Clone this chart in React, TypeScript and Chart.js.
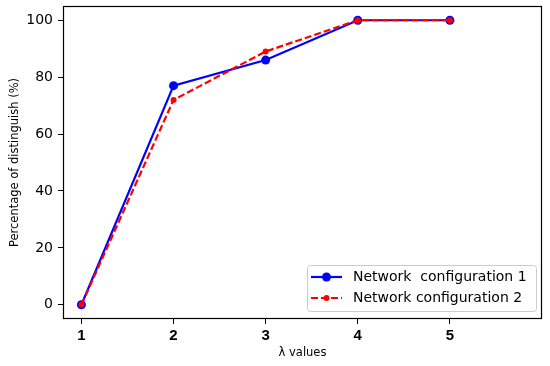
import React, { useEffect, useRef } from "react";
import { Chart, registerables } from "chart.js";

Chart.register(...registerables);

const lambdaValues = [1, 2, 3, 4, 5];
const network1 = [0, 77, 86, 100, 100];
const network2 = [0, 72, 89, 100, 100];
const yTickValues = [0, 20, 40, 60, 80, 100];
const seriesLabels = ["Network  configuration 1", "Network configuration 2"];
const xTitle = "λ values";
const yTitle = "Percentage of distinguish (%)";

const FONT = "'DejaVu Sans', sans-serif";

const frameAndLegend = {
  id: "frameAndLegend",
  afterDraw(chart: any) {
    const { ctx, chartArea } = chart;
    ctx.save();
    ctx.strokeStyle = "#000";
    ctx.lineWidth = 1.2;
    ctx.strokeRect(
      Math.round(chartArea.left) + 0.5,
      Math.round(chartArea.top) + 0.5,
      Math.round(chartArea.right - chartArea.left) - 1,
      Math.round(chartArea.bottom - chartArea.top) - 1
    );

    // legend box
    const bx = 307.5, by = 265.5, bw = 229, bh = 46;
    ctx.beginPath();
    ctx.roundRect(bx, by, bw, bh, 3);
    ctx.fillStyle = "rgba(255,255,255,0.85)";
    ctx.fill();
    ctx.strokeStyle = "#cccccc";
    ctx.lineWidth = 1;
    ctx.stroke();

    const rows = [
      { y: 277, color: "#0000ff", dash: [] as number[], r: 4.5, label: seriesLabels[0] },
      { y: 298, color: "#ff0000", dash: [7, 3], r: 3, label: seriesLabels[1] },
    ];
    rows.forEach((row) => {
      ctx.beginPath();
      ctx.setLineDash(row.dash);
      ctx.strokeStyle = row.color;
      ctx.lineWidth = 2.2;
      ctx.moveTo(311, row.y);
      ctx.lineTo(342, row.y);
      ctx.stroke();
      ctx.setLineDash([]);
      ctx.beginPath();
      ctx.arc(326.5, row.y, row.r, 0, Math.PI * 2);
      ctx.fillStyle = row.color;
      ctx.fill();
      ctx.fillStyle = "#000";
      ctx.font = `14px ${FONT}`;
      ctx.textBaseline = "middle";
      ctx.textAlign = "left";
      ctx.fillText(row.label, 353, row.y);
    });
    ctx.restore();
  },
};

export default function App() {
  const ref = useRef<HTMLCanvasElement | null>(null);

  useEffect(() => {
    if (!ref.current) return;
    const chart = new Chart(ref.current, {
      type: "line",
      data: {
        datasets: [
          {
            label: seriesLabels[0],
            data: lambdaValues.map((x, i) => ({ x, y: network1[i] })),
            borderColor: "#0000ff",
            backgroundColor: "#0000ff",
            borderWidth: 2.2,
            pointRadius: 4.5,
            pointBorderWidth: 0,
            pointBackgroundColor: "#0000ff",
            tension: 0,
            order: 1,
          },
          {
            label: seriesLabels[1],
            data: lambdaValues.map((x, i) => ({ x, y: network2[i] })),
            borderColor: "#ff0000",
            backgroundColor: "#ff0000",
            borderWidth: 2.2,
            borderDash: [7, 3],
            pointRadius: 3,
            pointBorderWidth: 0,
            pointBackgroundColor: "#ff0000",
            tension: 0,
            order: 0,
          },
        ],
      },
      options: {
        responsive: false,
        animation: false,
        devicePixelRatio: 1,
        layout: { padding: { top: 6, right: 8, left: 0, bottom: 0 } },
        plugins: {
          legend: { display: false },
          tooltip: { enabled: false },
        },
        scales: {
          x: {
            type: "linear",
            min: 0.8,
            max: 6.0,
            afterBuildTicks: (scale: any) => {
              scale.ticks = lambdaValues.map((v) => ({ value: v }));
            },
            afterFit: (scale: any) => {
              scale.height = 47;
              scale.paddingLeft = 0;
              scale.paddingRight = 0;
            },
            grid: {
              display: true,
              drawOnChartArea: false,
              drawTicks: true,
              tickLength: 5,
              tickColor: "#000",
              tickWidth: 1,
            },
            border: { display: false },
            ticks: {
              color: "#000",
              padding: 3,
              font: { family: "'Liberation Sans', Arial, sans-serif", size: 15, weight: "bold" },
              callback: (v: any) => String(v),
              maxRotation: 0,
            },
            title: {
              display: true,
              text: xTitle,
              color: "#000",
              font: { family: FONT, size: 11.5 },
              padding: { top: 0, bottom: 6 },
            },
          },
          y: {
            type: "linear",
            min: -5,
            max: 105,
            afterBuildTicks: (scale: any) => {
              scale.ticks = yTickValues.map((v) => ({ value: v }));
            },
            afterFit: (scale: any) => {
              scale.width = 63;
              scale.paddingTop = 0;
              scale.paddingBottom = 0;
            },
            grid: {
              display: true,
              drawOnChartArea: false,
              drawTicks: true,
              tickLength: 5,
              tickColor: "#000",
              tickWidth: 1,
            },
            border: { display: false },
            ticks: {
              color: "#000",
              padding: 5,
              font: { family: FONT, size: 14 },
              callback: (v: any) => String(v),
            },
            title: {
              display: true,
              text: yTitle,
              color: "#000",
              font: { family: FONT, size: 11.5 },
              padding: { top: 8, bottom: 0 },
            },
          },
        },
      },
      plugins: [frameAndLegend],
    });
    return () => chart.destroy();
  }, []);

  return (
    <div style={{ position: "fixed", left: 0, top: 0, width: 550, height: 366, background: "#fff" }}>
      <canvas ref={ref} width={550} height={366} style={{ display: "block" }} />
    </div>
  );
}
